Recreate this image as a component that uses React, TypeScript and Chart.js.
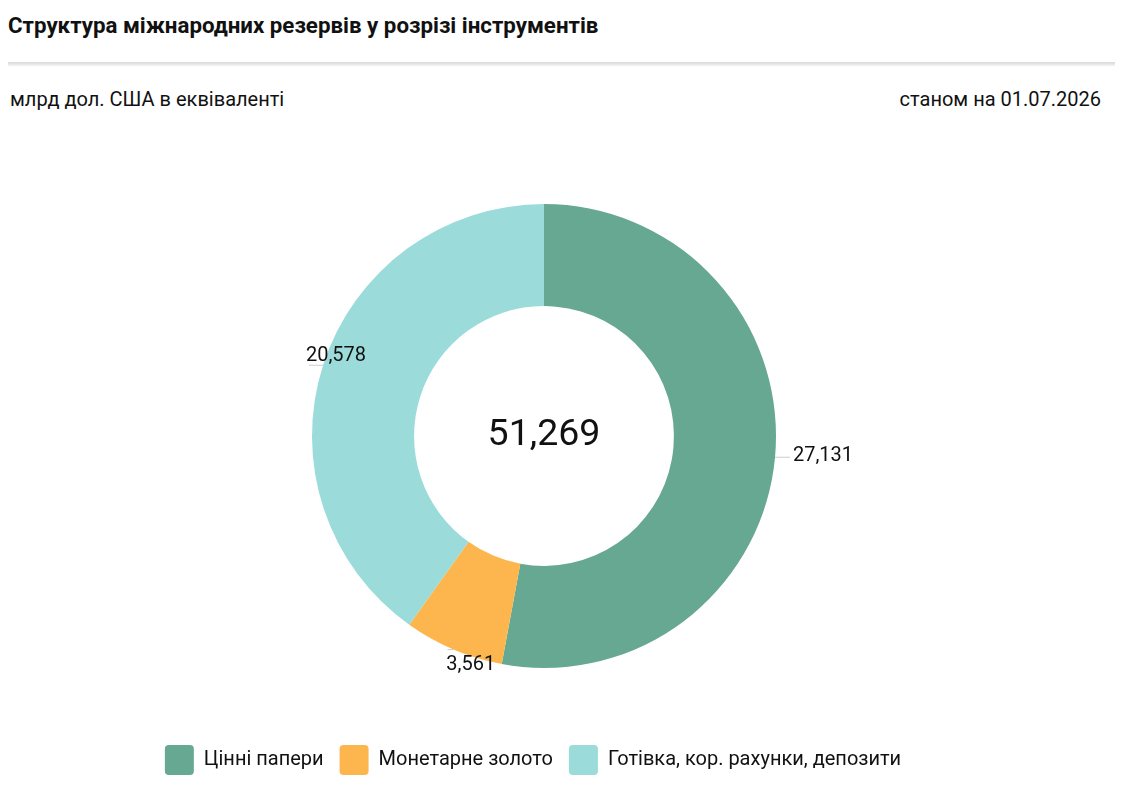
import React, { useEffect, useRef } from "react";
import { Chart, registerables } from "chart.js";

Chart.register(...registerables);

const categories = ["Цінні папери", "Монетарне золото", "Готівка, кор. рахунки, депозити"];
const values = [27.131, 3.561, 20.578];
const colors = ["#67a892", "#fdb64e", "#9bdcdb"];
const totalValue = 51.269;
const titleText = "Структура міжнародних резервів у розрізі інструментів";
const unitText = "млрд дол. США в еквіваленті";
const dateText = "станом на 01.07.2026";

const fmt = (v: number) => v.toFixed(3).replace(".", ",");

const LEGEND_SHIFT = -11;

const labelPlugin = {
  id: "sliceLabels",
  afterLayout(chart: any) {
    const lg = chart.legend;
    if (lg) {
      lg.left += LEGEND_SHIFT;
      lg.right += LEGEND_SHIFT;
    }
  },
  afterDatasetsDraw(chart: any) {
    const meta = chart.getDatasetMeta(0);
    const ctx = chart.ctx as CanvasRenderingContext2D;
    ctx.save();
    let cx = 0;
    let cy = 0;
    meta.data.forEach((arc: any, i: number) => {
      const p = arc.getProps(["x", "y", "startAngle", "endAngle", "outerRadius"], true);
      cx = p.x;
      cy = p.y;
      const mid = (p.startAngle + p.endAngle) / 2;
      const c = Math.cos(mid);
      const s = Math.sin(mid);
      const ax = p.x + c * p.outerRadius;
      const ay = p.y + s * p.outerRadius;
      ctx.strokeStyle = "#cccccc";
      ctx.lineWidth = 1;
      ctx.beginPath();
      ctx.moveTo(ax, ay);
      ctx.lineTo(ax + 15 * c, ay);
      ctx.stroke();
      ctx.fillStyle = "#111111";
      ctx.font = "20px Roboto";
      ctx.textAlign = "left";
      ctx.textBaseline = "middle";
      ctx.fillText(fmt(values[i]), ax + 18 * c, ay - 3 + 19.7 * s);
    });
    ctx.font = "37.5px Roboto";
    ctx.textAlign = "center";
    ctx.textBaseline = "middle";
    ctx.fillStyle = "#111111";
    ctx.fillText(fmt(totalValue), cx, cy);
    ctx.restore();
  },
};

export default function App() {
  const ref = useRef<HTMLCanvasElement | null>(null);

  useEffect(() => {
    if (!ref.current) return;
    Chart.defaults.font.family = "Roboto";
    const chart = new Chart(ref.current, {
      type: "doughnut",
      data: {
        labels: categories,
        datasets: [
          {
            data: values,
            backgroundColor: colors,
            borderWidth: 0,
          },
        ],
      },
      options: {
        animation: false,
        responsive: false,
        radius: 232,
        cutout: "56%",
        layout: { padding: { top: 13, bottom: 5, left: 0, right: 0 } },
        plugins: {
          tooltip: { enabled: false },
          legend: {
            position: "bottom",
            labels: {
              boxWidth: 29,
              boxHeight: 30,
              padding: 16,
              useBorderRadius: true,
              borderRadius: 4,
              color: "#111111",
              font: { size: 20, family: "Roboto" },
            },
          },
        },
      },
      plugins: [labelPlugin],
    });
    return () => chart.destroy();
  }, []);

  return (
    <div style={{ position: "relative", width: 1107, height: 783, fontFamily: "Roboto", color: "#111" }}>
      <div style={{ position: "absolute", left: 0, top: 4, fontSize: 22.3, fontWeight: 700, lineHeight: "26px", whiteSpace: "nowrap" }}>
        {titleText}
      </div>
      <div
        style={{
          position: "absolute",
          left: -8,
          top: 54,
          width: 1123,
          height: 4,
          background: "linear-gradient(#d8d8d8, #f4f4f4)",
        }}
      />
      <div style={{ position: "absolute", left: 2, top: 79, fontSize: 20, lineHeight: "24px", whiteSpace: "nowrap" }}>
        {unitText}
      </div>
      <div style={{ position: "absolute", right: 14, top: 79, fontSize: 20, lineHeight: "24px", whiteSpace: "nowrap" }}>
        {dateText}
      </div>
      <canvas ref={ref} width={1072} height={660} style={{ position: "absolute", left: 0, top: 122, width: 1072, height: 660 }} />
    </div>
  );
}
